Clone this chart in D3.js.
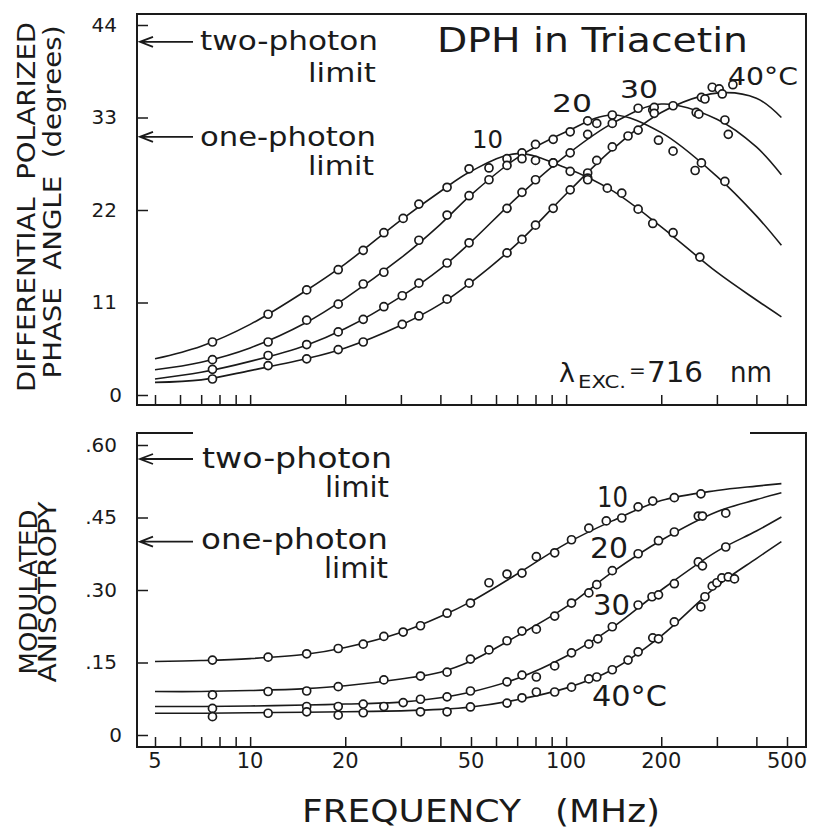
<!DOCTYPE html>
<html>
<head>
<meta charset="utf-8">
<script src="https://cdn.jsdelivr.net/npm/d3@7"></script>
<style>
body { margin: 0; background: #fff; }
text { font-family: "DejaVu Sans", sans-serif; fill: #1a1a1a; white-space: pre; }
</style>
</head>
<body>
<script>

// fitted curves, sampled at these frequencies (MHz)
var curveFreq = [5, 7, 10, 15, 20, 30, 40, 50, 70, 100, 140, 200, 300, 400, 480];

var phaseFit10 = [4.3, 5.8, 8.4, 12.4, 15.6, 20.8, 24.2, 26.6, 28.7, 27.0, 24.3, 20.0, 14.6, 11.3, 9.3];
var phaseFit20 = [3.0, 3.9, 5.6, 8.6, 11.5, 16.3, 20.3, 23.8, 28.2, 31.3, 33.3, 31.2, 26.0, 21.3, 17.8];
var phaseFit30 = [1.9, 2.7, 4.0, 5.9, 7.9, 11.7, 15.0, 18.2, 23.5, 28.5, 32.3, 34.6, 32.8, 29.5, 26.2];
var phaseFit40 = [1.5, 1.8, 2.9, 4.3, 5.6, 8.3, 10.8, 13.4, 18.0, 23.9, 29.2, 33.6, 35.9, 35.3, 33.0];

var anisoFit10 = [0.152, 0.154, 0.158, 0.167, 0.181, 0.212, 0.245, 0.276, 0.333, 0.396, 0.443, 0.485, 0.506, 0.515, 0.520];
var anisoFit20 = [0.090, 0.090, 0.092, 0.096, 0.102, 0.116, 0.130, 0.153, 0.205, 0.265, 0.337, 0.403, 0.462, 0.487, 0.501];
var anisoFit30 = [0.059, 0.059, 0.060, 0.062, 0.064, 0.068, 0.077, 0.089, 0.117, 0.163, 0.222, 0.300, 0.380, 0.422, 0.451];
var anisoFit40 = [0.045, 0.045, 0.046, 0.047, 0.048, 0.050, 0.053, 0.058, 0.073, 0.097, 0.135, 0.205, 0.308, 0.365, 0.400];

// measured points [frequency MHz, value]
var phasePts10 = [[7.6,6.3],[11.4,9.6],[15.1,12.5],[19,14.9],[22.8,17.2],[26.5,19.3],[30.5,21.0],[34.2,22.7],[42,24.7],[49.3,26.9],[57,27.0],[65,28.1],[65,27.3],[72.5,28.8],[72.5,28.1],[80,27.9],[91,27.6],[103,26.6],[117,26.4],[117,25.8],[135,24.6],[150,24.0],[169,22.1],[188,20.4],[218,19.3],[265,16.4]];
var phasePts20 = [[7.6,4.2],[11.4,6.3],[15.1,8.9],[19,10.8],[22.8,13.2],[26.5,14.6],[34.2,18.4],[42,21.4],[49.3,23.7],[57,25.6],[80,29.8],[91,30.4],[103,31.3],[117,32.6],[125,32.3],[140,33.3],[140,32.3],[196,30.3],[218,29.0],[256,26.7],[268,27.6],[318,25.4]];
var phasePts30 = [[7.6,3.05],[11.4,4.7],[15.1,6.0],[19,7.5],[22.8,9.0],[26.5,10.5],[30.3,11.8],[34.2,13.3],[42,15.7],[49.3,18.1],[65,22.2],[72.5,24.1],[80,25.6],[91,27.6],[103,28.8],[117,31.0],[169,34.1],[188,33.9],[190,34.2],[218,34.4],[258,33.6],[263,33.4],[318,32.7],[326,31.0]];
var phasePts40 = [[7.6,1.9],[11.4,3.5],[15.1,4.3],[19,5.4],[22.8,6.3],[30.3,8.4],[34.2,9.4],[42,11.4],[49.3,13.3],[65,16.9],[72.5,18.5],[80,20.2],[91,22.2],[103,24.4],[117,25.6],[125,27.9],[140,29.5],[157,30.8],[169,31.5],[190,33.5],[268,35.4],[275,35.2],[290,36.6],[305,36.4],[312,35.8],[337,36.9]];

var anisoPts10 = [[7.6,.155],[11.4,.161],[15.1,.168],[19,.179],[22.8,.188],[26.5,.204],[30.5,.213],[34.6,.226],[42,.252],[49.8,.273],[57,.315],[65,.333],[72.5,.335],[80.5,.369],[92,.377],[104,.404],[118,.428],[134,.443],[150,.449],[169,.472],[188,.484],[220,.491],[267,.499]];
var anisoPts20 = [[7.6,.083],[11.4,.090],[15.1,.091],[19,.100],[26.5,.114],[34.6,.122],[42,.130],[49.8,.157],[57,.176],[65,.195],[72.5,.215],[80.5,.219],[92,.246],[104,.273],[118,.294],[125,.311],[140,.340],[169,.375],[196,.402],[220,.420],[262,.453],[270,.453],[320,.459]];
var anisoPts30 = [[7.6,.055],[15.1,.059],[19,.059],[22.8,.064],[26.5,.059],[30.5,.067],[34.6,.074],[42,.079],[49.8,.091],[65,.110],[72.5,.124],[80.5,.120],[92,.143],[104,.170],[118,.188],[126,.199],[140,.224],[169,.269],[187,.286],[196,.290],[220,.313],[262,.358],[270,.350],[320,.389]];
var anisoPts40 = [[7.6,.038],[11.4,.045],[15.1,.048],[19,.041],[22.8,.046],[34.6,.048],[42,.048],[49.8,.058],[65,.066],[72.5,.077],[80.5,.089],[92,.089],[104,.099],[118,.116],[125,.120],[140,.135],[157,.155],[169,.172],[188,.201],[196,.199],[220,.234],[267,.265],[275,.286],[290,.308],[300,.315],[311,.325],[326,.327],[341,.323]];

var xTicks = [5, 6, 7, 8, 9, 10, 20, 30, 40, 50, 60, 70, 80, 90, 100, 200, 300, 400, 500];
var xLabels = [5, 10, 20, 50, 100, 200, 500];
var phaseTicks = [0, 11, 22, 33, 44];
var anisoTicks = [0, 0.15, 0.30, 0.45, 0.60];

// two-photon, one-photon limits
var phaseLimits = [42.0, 30.7];
var anisoLimits = [0.571, 0.400];

var tempLabels = ["10", "20", "30", "40°C"];

var W = 817, H = 829;
var ink = "#1a1a1a";

var svg = d3.select("body").append("svg").attr("width", W).attr("height", H);

var xScale = d3.scaleLog().domain([5, 500]).range([155, 787]);
var yPhase = d3.scaleLinear().domain([0, 44]).range([395, 25]);
var yAniso = d3.scaleLinear().domain([0, 0.6]).range([735, 445]);

var left = 137, right = 806;

function label(txt, x, y, size, len, anchor) {
    var t = svg.append("text")
        .attr("x", x).attr("y", y)
        .style("font-size", size + "px")
        .style("text-anchor", anchor || "start")
        .text(txt);
    if (len) t.attr("textLength", len).attr("lengthAdjust", "spacingAndGlyphs");
    return t;
}

function arrow(y) {
    svg.append("path")
        .attr("d", "M193," + y + "H140M153," + (y - 5) + "L140," + y + "L153," + (y + 5))
        .attr("fill", "none").attr("stroke", ink).attr("stroke-width", 1.8);
}

function drawPanel(yScale, fits, pts, axisY, ticks, fmt) {
    var g = svg.append("g");

    g.append("g")
        .attr("transform", "translate(0," + axisY + ")")
        .call(d3.axisBottom(xScale).tickValues(xTicks).tickSizeInner(-10).tickSizeOuter(0).tickFormat(""))
        .call(function(a) { a.select(".domain").remove(); a.selectAll("line").attr("stroke", ink).attr("stroke-width", 1.5); });

    var ya = g.append("g")
        .attr("transform", "translate(" + left + ",0)")
        .call(d3.axisLeft(yScale).tickValues(ticks).tickSizeInner(-11).tickSizeOuter(0).tickPadding(20).tickFormat(fmt));
    ya.select(".domain").remove();
    ya.selectAll("line").attr("stroke", ink).attr("stroke-width", 1.5);
    ya.selectAll("text").style("font-size", "20px").attr("fill", ink)
        .attr("dx", function(d) { return d === 0 ? 5 : 0; });

    var line = d3.line()
        .x(function(d) { return xScale(d[0]); })
        .y(function(d) { return yScale(d[1]); })
        .curve(d3.curveCatmullRom.alpha(0.5));

    fits.forEach(function(vals) {
        var data = curveFreq.map(function(f, i) { return [f, vals[i]]; });
        g.append("path").attr("d", line(data))
            .attr("fill", "none").attr("stroke", ink).attr("stroke-width", 1.6);
    });

    pts.forEach(function(set) {
        g.selectAll(null).data(set).enter().append("circle")
            .attr("cx", function(d) { return xScale(d[0]); })
            .attr("cy", function(d) { return yScale(d[1]); })
            .attr("r", 4)
            .attr("fill", "#fff").attr("stroke", ink).attr("stroke-width", 1.7);
    });
}

// ---- top panel: differential phase angle
drawPanel(yPhase, [phaseFit10, phaseFit20, phaseFit30, phaseFit40],
    [phasePts10, phasePts20, phasePts30, phasePts40], 405, phaseTicks, d3.format("d"));

svg.append("rect").attr("x", left).attr("y", 14).attr("width", right - left).attr("height", 405 - 14)
    .attr("fill", "none").attr("stroke", ink).attr("stroke-width", 2);

// ---- bottom panel: modulated anisotropy
drawPanel(yAniso, [anisoFit10, anisoFit20, anisoFit30, anisoFit40],
    [anisoPts10, anisoPts20, anisoPts30, anisoPts40], 747, anisoTicks,
    function(d) { return d === 0 ? "0" : d3.format(".2f")(d).slice(1); });

svg.append("path")
    .attr("d", "M193,433H" + left + "V747H" + right + "V433H750")
    .attr("fill", "none").attr("stroke", ink).attr("stroke-width", 2);

// x tick labels
svg.selectAll(".xl").data(xLabels).enter().append("text")
    .attr("x", function(d) { return xScale(d); })
    .attr("y", 768)
    .style("font-size", "21px").style("text-anchor", "middle")
    .text(function(d) { return d; });

label("FREQUENCY   (MHz)", 302, 822, 32, 358);

// y titles
function ytitle(txt, x, y, size, len) {
    svg.append("text")
        .attr("transform", "translate(" + x + "," + y + ") rotate(-90)")
        .attr("dominant-baseline", "central")
        .style("font-size", size + "px").style("text-anchor", "middle")
        .attr("textLength", len).attr("lengthAdjust", "spacingAndGlyphs")
        .text(txt);
}
ytitle("DIFFERENTIAL  POLARIZED", 26, 207, 25, 370);
ytitle("PHASE  ANGLE  (degrees)", 52, 202, 25, 353);
ytitle("MODULATED", 29, 592, 24, 165);
ytitle("ANISOTROPY", 48, 592, 24, 181);

// limit arrows and notes
arrow(yPhase(phaseLimits[0]));
arrow(yPhase(phaseLimits[1]));
arrow(yAniso(anisoLimits[0]));
arrow(yAniso(anisoLimits[1]));

label("two-photon", 200, 50, 27, 178);
label("limit", 376, 82, 27, 68, "end");
label("one-photon", 200, 146, 27, 176);
label("limit", 374, 175, 27, 66, "end");

label("two-photon", 202, 468, 28, 190);
label("limit", 389, 497, 28, 64, "end");
label("one-photon", 201, 549, 28, 187);
label("limit", 388, 578, 28, 64, "end");

// title and excitation wavelength
label("DPH in Triacetin", 437, 52, 33, 311);
label("λ", 559, 382, 27);
label("EXC.", 578, 388, 17, 48);
label("=", 629, 377, 20);
label("716", 647, 382, 28, 56);
label("nm", 730, 382, 28, 42);

// temperature labels
label(tempLabels[0], 472, 148, 25, 31);
label(tempLabels[1], 552, 112, 25, 40);
label(tempLabels[2], 620, 98, 25, 38);
label(tempLabels[3], 728, 85, 25, 70);

label(tempLabels[0], 597, 507, 28, 31);
label(tempLabels[1], 590, 558, 28, 38);
label(tempLabels[2], 593, 615, 28, 37);
label(tempLabels[3], 592, 706, 28, 75);

</script>
</body>
</html>
